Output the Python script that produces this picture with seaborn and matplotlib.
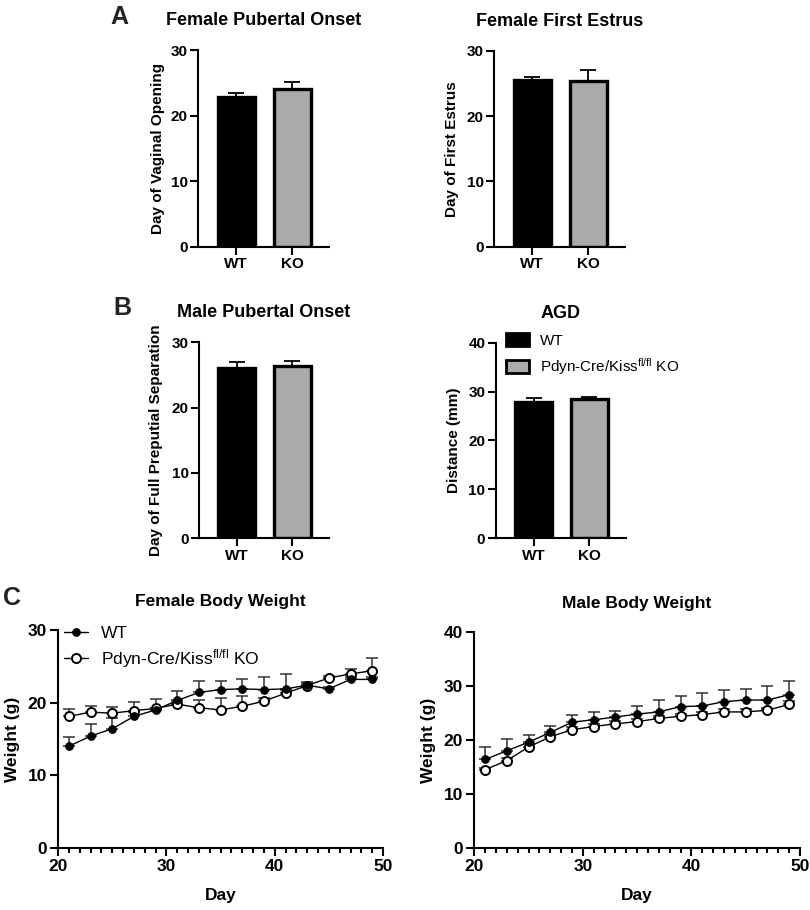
import numpy as np
import pandas as pd
import matplotlib
matplotlib.use("Agg")
import matplotlib.pyplot as plt
from matplotlib.patches import Patch
from matplotlib.ticker import MultipleLocator
import seaborn as sns

# ---- data ----
groups = ["WT", "KO"]
bar_colors = ["black", "#aaaaaa"]

vaginal_opening = [22.9, 24.05]
vaginal_opening_err = [0.5, 1.1]
first_estrus = [25.5, 25.4]
first_estrus_err = [0.5, 1.6]
preputial_sep = [26.1, 26.4]
preputial_sep_err = [0.9, 0.75]
agd = [27.9, 28.4]
agd_err = [0.7, 0.55]

days = [21, 23, 25, 27, 29, 31, 33, 35, 37, 39, 41, 43, 45, 47, 49]

female_wt = [14.0, 15.4, 16.4, 18.1, 19.0, 20.3, 21.4, 21.8, 21.9, 21.8, 21.9, 22.4, 21.9, 23.2, 23.2]
female_wt_err = [1.3, 1.7, 1.5, 0.6, 0.3, 1.3, 1.6, 1.2, 1.4, 1.8, 2.0, 0.3, 0.3, 0.4, 0.4]
female_ko = [18.1, 18.7, 18.55, 18.9, 19.2, 19.8, 19.3, 19.0, 19.5, 20.2, 21.3, 22.35, 23.4, 23.95, 24.4]
female_ko_err = [1.0, 0.9, 0.9, 1.2, 1.3, 0.4, 1.0, 1.6, 1.4, 0.5, 0.4, 0.5, 0.3, 0.65, 1.7]

male_wt = [16.4, 18.0, 19.6, 21.4, 23.3, 23.75, 24.25, 24.8, 25.2, 26.2, 26.3, 27.1, 27.4, 27.4, 28.4]
male_wt_err = [2.3, 2.2, 1.4, 1.2, 1.4, 1.5, 1.2, 1.5, 2.2, 2.0, 2.4, 2.1, 2.0, 2.6, 2.5]
male_ko = [14.5, 16.2, 18.7, 20.6, 21.9, 22.5, 23.0, 23.4, 24.0, 24.4, 24.7, 25.2, 25.2, 25.5, 26.6]
male_ko_err = [0.4, 0.5, 0.6, 0.5, 0.5, 0.5, 0.5, 0.5, 0.5, 0.5, 0.5, 0.5, 0.5, 0.5, 0.7]

ko_label = r"Pdyn-Cre/Kiss$^{fl/fl}$ KO"

sns.set_theme(style="ticks")
plt.rcParams["font.family"] = ["Liberation Sans", "DejaVu Sans"]
plt.rcParams["font.weight"] = "bold"
plt.rcParams["axes.titleweight"] = "bold"
plt.rcParams["axes.labelweight"] = "bold"
plt.rcParams["axes.linewidth"] = 1.5
plt.rcParams["mathtext.fontset"] = "custom"
plt.rcParams["mathtext.rm"] = "Liberation Sans"
plt.rcParams["mathtext.default"] = "regular"
plt.rcParams["text.color"] = "black"
plt.rcParams["axes.labelcolor"] = "black"
plt.rcParams["xtick.color"] = "black"
plt.rcParams["ytick.color"] = "black"
plt.rcParams["axes.edgecolor"] = "black"


def bar_panel(ax, vals, errs, title, ylabel, ymax, label_x):
    sns.barplot(x=groups, y=vals, hue=groups, palette=bar_colors, edgecolor="black",
                linewidth=2.4, width=0.66, legend=False, ax=ax)
    ax.errorbar(x=[0, 1], y=vals, yerr=[[0, 0], errs], fmt="none", ecolor="black",
                elinewidth=1.3, capsize=5.5, capthick=1.3)
    ax.set_ylim(0, ymax)
    ax.set_yticks(range(0, ymax + 1, 10))
    ax.set_xlim(-0.68, 1.66)
    ax.set_title(title, fontsize=13, pad=18)
    ax.set_ylabel(ylabel, fontsize=11)
    ax.yaxis.set_label_coords(label_x, 0.5)
    ax.set_xlabel("")
    ax.tick_params(axis="both", length=5.5, width=1.5, labelsize=11, pad=2)
    sns.despine(ax=ax)


def weight_panel(ax, wt, wt_err, ko, ko_err, title, ymax, label_x):
    zeros = np.zeros(len(days))
    ax.errorbar(days, wt, yerr=[zeros, wt_err], fmt="none", ecolor="#333333",
                elinewidth=1.1, capsize=4, capthick=1.1, zorder=1)
    ax.errorbar(days, ko, yerr=[zeros, ko_err], fmt="none", ecolor="#333333",
                elinewidth=1.1, capsize=4, capthick=1.1, zorder=1)
    sns.lineplot(x=days, y=ko, color="black", lw=1, marker="o", markersize=6.5,
                 markerfacecolor="white", markeredgecolor="black", markeredgewidth=1.4,
                 errorbar=None, label=ko_label, zorder=2, ax=ax)
    sns.lineplot(x=days, y=wt, color="black", lw=1, marker="o", markersize=5.5,
                 markerfacecolor="black", markeredgecolor="black",
                 errorbar=None, label="WT", zorder=3, ax=ax)
    if ax.get_legend() is not None:
        ax.get_legend().remove()
    ax.set_xlim(20, 50)
    ax.set_ylim(0, ymax)
    ax.set_yticks(range(0, ymax + 1, 10))
    ax.xaxis.set_major_locator(MultipleLocator(10))
    ax.xaxis.set_minor_locator(MultipleLocator(1))
    ax.set_title(title, fontsize=12.5, pad=17)
    ax.set_xlabel("Day", fontsize=12.5)
    ax.set_ylabel("Weight (g)", fontsize=12.5)
    ax.yaxis.set_label_coords(label_x, 0.5)
    ax.xaxis.set_label_coords(0.5, -0.185)
    ax.tick_params(axis="both", which="major", length=6, width=1.5, labelsize=12.5, pad=2)
    ax.tick_params(axis="x", which="minor", length=3.5, width=1.5)
    sns.despine(ax=ax)


fig = plt.figure(figsize=(8.1, 9.1), dpi=100)
W, H = 810.0, 910.0


def add_ax(left, right, top, bottom):
    return fig.add_axes([left / W, (H - bottom) / H, (right - left) / W, (bottom - top) / H])


ax1 = add_ax(198, 329, 50, 247)
ax2 = add_ax(494, 625, 50.7, 246.7)
ax3 = add_ax(199, 329, 342.3, 538.3)
ax4 = add_ax(495.7, 626, 342.7, 538.3)
ax5 = add_ax(58, 383, 630, 848)
ax6 = add_ax(474.3, 800, 632, 848)

bar_panel(ax1, vaginal_opening, vaginal_opening_err, "Female Pubertal Onset",
          "Day of Vaginal Opening", 30, -0.25)
bar_panel(ax2, first_estrus, first_estrus_err, "Female First Estrus",
          "Day of First Estrus", 30, -0.27)
bar_panel(ax3, preputial_sep, preputial_sep_err, "Male Pubertal Onset",
          "Day of Full Preputial Separation", 30, -0.28)
bar_panel(ax4, agd, agd_err, "AGD", "Distance (mm)", 40, -0.27)

# legend for the bar panels sits in the AGD plot
handles = [Patch(facecolor=c, edgecolor="black", linewidth=2) for c in bar_colors]
ax4.legend(handles, ["WT", ko_label], loc="upper left", bbox_to_anchor=(0.079, 1.05),
           frameon=False, borderpad=0, borderaxespad=0, handlelength=1.5,
           handleheight=0.9, handletextpad=0.7, labelspacing=0.55,
           prop={"weight": "normal", "size": 11})

weight_panel(ax5, female_wt, female_wt_err, female_ko, female_ko_err,
             "Female Body Weight", 30, -0.117)
weight_panel(ax6, male_wt, male_wt_err, male_ko, male_ko_err,
             "Male Body Weight", 40, -0.118)

# line legend, WT first
h, l = ax5.get_legend_handles_labels()
order = [l.index("WT"), l.index(ko_label)]
ax5.legend([h[i] for i in order], [l[i] for i in order], loc="upper left",
           bbox_to_anchor=(0.018, 1.02), frameon=False, borderpad=0, borderaxespad=0,
           handlelength=1.4, handletextpad=0.75, labelspacing=0.35,
           prop={"weight": "normal", "size": 12.5})

# panel letters
fig.text(110 / W, (H - 24) / H, "A", fontsize=18, fontweight="bold", color="#222222")
fig.text(113 / W, (H - 315) / H, "B", fontsize=18, fontweight="bold", color="#222222")
fig.text(3 / W, (H - 605) / H, "C", fontsize=18, fontweight="bold", color="#222222")

fig.savefig("out.png", dpi=100)
